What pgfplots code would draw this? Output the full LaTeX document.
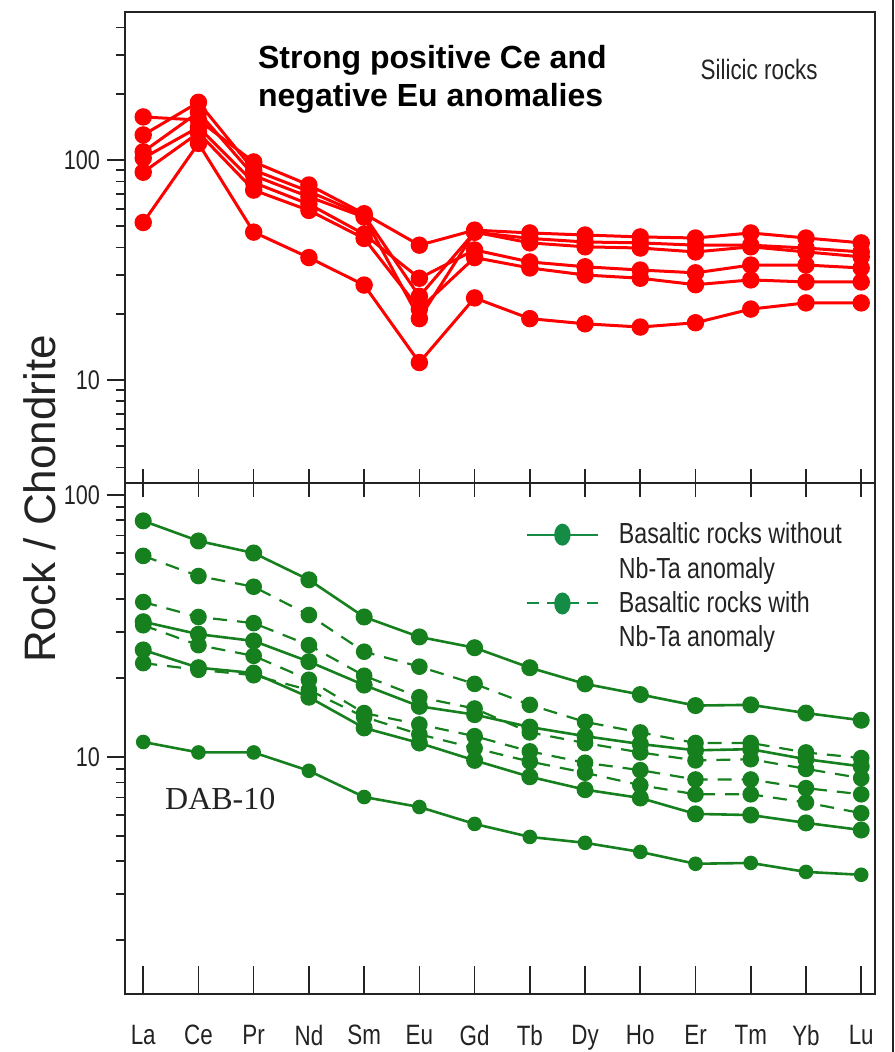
\documentclass[border=0pt]{standalone}
\usepackage{fontspec}
\setmainfont{Liberation Sans}
\newfontfamily\narrowsans[FakeStretch=0.8]{Liberation Sans}
\newfontfamily\timesfont{Liberation Serif}
\usepackage{pgfplots}
\pgfplotsset{compat=1.18}

\definecolor{silred}{RGB}{255,0,0}
\definecolor{basgreen}{RGB}{22,128,30}
\definecolor{leggreen}{RGB}{20,140,70}
\definecolor{axisgray}{RGB}{35,35,35}

\pgfplotsset{
  reeaxis/.style={
    scale only axis,
    width=375pt,
    xmin=-0.33, xmax=13.25,
    axis line style={line width=1pt, axisgray},
    xtick=\empty,
    ytick={10,100}, yticklabels={10,100},
    xtick pos=left, ytick pos=left,
    tick align=outside,
    major tick length=9pt,
    minor tick length=4.5pt,
    tick style={line width=0.8pt, axisgray},
    minor tick style={line width=0.8pt, axisgray},
    extra x ticks={0,1,...,13},
    yticklabel style={font=\narrowsans\fontsize{13.5}{15}\selectfont, text=axisgray},
    clip=false,
  },
  silicic/.style={silred, line width=1.5pt, mark=*, mark size=3.6pt,
    mark options={fill=silred, draw=silred}},
  basnoanom/.style={basgreen, line width=1.3pt, mark=*, mark size=3.6pt,
    mark options={fill=basgreen, draw=basgreen, solid}},
  basanom/.style={basgreen, line width=1.1pt, dash pattern=on 7pt off 5pt,
    mark=*, mark size=3.6pt, mark options={fill=basgreen, draw=basgreen, solid}},
}

\begin{document}
\begin{tikzpicture}
\path[use as bounding box] (-62.5pt,-284.5pt) rectangle (384.5pt,241.5pt);

% ---------------- silicic rocks ----------------
\begin{semilogyaxis}[reeaxis,
  name=top, at={(0pt,0pt)}, anchor=south west,
  height=235.5pt,
  ymin=3.4, ymax=471,
  minor ytick={4,5,6,7,8,9,20,30,40,50,60,70,80,90,200,300,400},
  extra x tick labels={,,,,,,,,,,,,,},
  extra x tick style={major tick length=14pt, tick align=center,
    tick style={line width=0.8pt, axisgray}},
]
\addplot[silicic] coordinates {(0,157)(1,152)(2,98)(3,77)(4,57)(5,41)(6,48)(7,46.6)(8,45.6)(9,44.7)(10,44.2)(11,46.6)(12,44.2)(13,42)};
\addplot[silicic] coordinates {(0,130)(1,183)(2,90)(3,72)(4,56)(5,24)(6,47)(7,44)(8,42.4)(9,42)(10,41)(11,41)(12,39.8)(13,38.2)};
\addplot[silicic] coordinates {(0,109)(1,165)(2,85)(3,68)(4,55)(5,19)(6,47)(7,42)(8,40.3)(9,39.8)(10,38.2)(11,40.3)(12,38.2)(13,36.3)};
\addplot[silicic] coordinates {(0,102)(1,141)(2,79)(3,63)(4,46)(5,29)(6,39)(7,34.4)(8,32.7)(9,31.6)(10,30.7)(11,33.3)(12,33.3)(13,32.3)};
\addplot[silicic] coordinates {(0,88)(1,133)(2,73)(3,59)(4,44)(5,21)(6,36)(7,32.3)(8,30)(9,29)(10,27.1)(11,28.5)(12,27.9)(13,27.9)};
\addplot[silicic] coordinates {(0,52)(1,119)(2,47)(3,36)(4,27)(5,12)(6,23.6)(7,19)(8,18)(9,17.4)(10,18.2)(11,21)(12,22.4)(13,22.4)};

\node[anchor=north west, inner sep=0pt, align=left,
  font=\bfseries\fontsize{16}{19}\selectfont, text=black]
  at (rel axis cs:0.177,0.93) {Strong positive Ce and\\negative Eu anomalies};
\node[anchor=west, inner sep=0pt, text=axisgray,
  font=\narrowsans\fontsize{14}{16}\selectfont]
  at (rel axis cs:0.767,0.877) {Silicic rocks};
\end{semilogyaxis}

% ---------------- basaltic rocks ----------------
\begin{semilogyaxis}[reeaxis,
  name=bottom, at={(0pt,0pt)}, anchor=north west,
  height=255.5pt,
  ymin=1.245, ymax=111,
  minor ytick={2,3,4,5,6,7,8,9,20,30,40,50,60,70,80,90},
  extra x tick labels={La,Ce,Pr,Nd,Sm,Eu,Gd,Tb,Dy,Ho,Er,Tm,Yb,Lu},
  extra x tick style={major tick length=14pt, tick align=inside,
    tick style={line width=0.8pt, axisgray}},
  xticklabel style={yshift=-12pt, font=\narrowsans\fontsize{14}{16}\selectfont, text=axisgray},
  legend style={draw=none, fill=none, at={(0.534,0.931)}, anchor=north west,
    font=\narrowsans\fontsize{14.5}{16}\selectfont, text=axisgray,
    row sep=1.2pt, inner sep=0pt,
    /tikz/every odd column/.append style={column sep=8pt},
    /tikz/every even column/.append style={column sep=0pt}},
  legend cell align=left,
  legend image code/.code={
    \draw[#1, mark repeat=2, mark phase=2]
      plot coordinates {(0pt,0pt)(17.75pt,0pt)(35.5pt,0pt)};},
]
\addlegendimage{leggreen, line width=1pt, mark=*, mark size=4pt,
  mark options={fill=leggreen, draw=leggreen, solid, xscale=0.9, yscale=1.25}}
\addlegendentry{Basaltic rocks without}
\addlegendimage{empty legend}
\addlegendentry{Nb-Ta anomaly}
\addlegendimage{leggreen, line width=1pt, dash pattern=on 6pt off 4pt, mark=*, mark size=4pt,
  mark options={fill=leggreen, draw=leggreen, solid, xscale=0.9, yscale=1.25}}
\addlegendentry{Basaltic rocks with}
\addlegendimage{empty legend}
\addlegendentry{Nb-Ta anomaly}

% samples without Nb-Ta anomaly
\addplot[basnoanom, forget plot] coordinates {(0,79.6)(1,66.7)(2,60)(3,47.4)(4,34.2)(5,28.7)(6,26.1)(7,21.9)(8,19)(9,17.3)(10,15.7)(11,15.8)(12,14.7)(13,13.8)};
\addplot[basnoanom, forget plot] coordinates {(0,32.8)(1,29.4)(2,27.7)(3,23.1)(4,18.8)(5,15.6)(6,14.5)(7,13)(8,12)(9,11.2)(10,10.6)(11,10.7)(12,9.8)(13,9.2)};
\addplot[basnoanom, forget plot] coordinates {(0,25.6)(1,21.9)(2,20.9)(3,16.9)(4,12.9)(5,11.3)(6,9.7)(7,8.4)(8,7.5)(9,6.97)(10,6.06)(11,6.0)(12,5.6)(13,5.26)};
\addplot[basnoanom, forget plot, mark size=3pt] coordinates {(0,11.4)(1,10.4)(2,10.4)(3,8.85)(4,7.03)(5,6.44)(6,5.55)(7,4.95)(8,4.7)(9,4.34)(10,3.91)(11,3.94)(12,3.64)(13,3.55)};
% samples with Nb-Ta anomaly
\addplot[basanom, forget plot] coordinates {(0,58.5)(1,49)(2,44.6)(3,34.8)(4,25.2)(5,22.1)(6,19)(7,15.8)(8,13.6)(9,12.4)(10,11.3)(11,11.3)(12,10.4)(13,9.9)};
\addplot[basanom, forget plot] coordinates {(0,39)(1,34.2)(2,32.4)(3,26.7)(4,20.4)(5,16.9)(6,15.3)(7,12.4)(8,11.3)(9,10.4)(10,9.7)(11,9.8)(12,9.0)(13,8.3)};
\addplot[basanom, forget plot] coordinates {(0,31.8)(1,26.7)(2,24.3)(3,19.7)(4,14.7)(5,13.3)(6,12.0)(7,10.5)(8,9.5)(9,8.9)(10,8.2)(11,8.2)(12,7.6)(13,7.2)};
\addplot[basanom, forget plot] coordinates {(0,22.8)(1,21.5)(2,20.5)(3,18.0)(4,14.2)(5,12.2)(6,10.8)(7,9.6)(8,8.7)(9,7.8)(10,7.2)(11,7.2)(12,6.7)(13,6.1)};

\node[anchor=west, inner sep=0pt, font=\timesfont\fontsize{16}{18}\selectfont, text=axisgray]
  at (rel axis cs:0.053,0.381) {DAB-10};
\end{semilogyaxis}

% y-axis title shared by both panels
\node[rotate=90, font=\fontsize{22}{24}\selectfont, text=axisgray]
  at (-42.5pt,-8pt) {Rock / Chondrite};
% frame edge at the right of the figure
\draw[line width=0.9pt, axisgray] (384pt,241.5pt) -- (384pt,-284.5pt);
\end{tikzpicture}
\end{document}
